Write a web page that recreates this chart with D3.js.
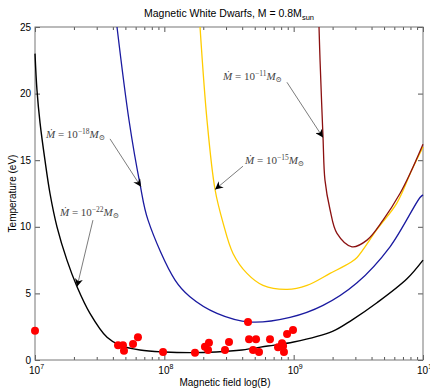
<!DOCTYPE html>
<html>
<head>
<meta charset="utf-8">
<script src="https://cdn.jsdelivr.net/npm/d3@7"></script>
<style>
  body { margin: 0; background: #fff; }
  svg { display: block; font-family: 'Liberation Sans', Arial, sans-serif; }
</style>
</head>
<body>
<svg width="430" height="388"></svg>
<script>
// Curves: log10(B) and temperature in eV
const blackLogB = [7.0, 7.015, 7.039, 7.077, 7.116, 7.17, 7.247, 7.325, 7.425, 7.557, 7.657, 7.812, 8.0, 8.2, 8.4, 8.6, 8.8, 9.0, 9.3, 9.45, 9.644, 9.876, 10.0];
const blackT = [23.0, 20.3, 17.8, 15.0, 12.5, 10.0, 7.5, 5.5, 3.5, 1.7, 1.1, 0.75, 0.6, 0.55, 0.6, 0.75, 1.05, 1.35, 2.15, 3.0, 4.3, 6.1, 7.5];

const blueLogB = [7.634, 7.727, 7.812, 7.874, 8.083, 8.198, 8.407, 8.662, 8.972, 9.227, 9.49, 9.745, 9.977, 10.0];
const blueT = [25, 18, 13.2, 10.5, 6.0, 4.75, 3.5, 2.85, 3.2, 4.1, 5.8, 8.5, 12.2, 12.4];

const yellowLogB = [8.276, 8.33, 8.392, 8.454, 8.531, 8.639, 8.763, 8.949, 9.103, 9.281, 9.436, 9.49, 9.644, 9.799, 9.915, 10.0];
const yellowT = [25, 18, 12.8, 10.3, 8.0, 6.5, 5.6, 5.3, 5.6, 6.5, 7.3, 7.7, 9.8, 11.8, 14.3, 16.0];

const redLogB = [9.196, 9.204, 9.227, 9.242, 9.281, 9.335, 9.451, 9.567, 9.691, 9.822, 9.9, 10.0];
const redT = [25, 22.5, 16.7, 13.5, 11.3, 9.5, 8.5, 9.0, 10.5, 12.5, 14.0, 16.2];

// Observed magnetic white dwarfs
const obsLogB = [7.0, 7.642, 7.68, 7.688, 7.758, 7.796, 7.99, 8.237, 8.314, 8.345, 8.338, 8.469, 8.5, 8.647, 8.655, 8.709, 8.686, 8.732, 8.817, 8.879, 8.91, 8.918, 8.925, 8.949, 8.995];
const obsT = [2.2, 1.1, 1.1, 0.7, 1.2, 1.7, 0.6, 0.55, 1.0, 1.3, 0.75, 0.75, 1.35, 2.85, 1.55, 1.55, 0.75, 0.6, 1.55, 0.95, 1.25, 1.05, 0.6, 1.95, 2.25];

// Annotations: exponent, text anchor, arrow start, arrow tip (log10 B, T)
const annExp = ['−22', '−18', '−15', '−11'];
const annText = [[7.193, 10.8], [7.085, 16.67], [8.624, 14.7], [8.454, 21.0]];
const annFrom = [[7.448, 10.5], [7.58, 16.6], [8.608, 14.55], [8.948, 20.85]];
const annTip = [[7.325, 5.5], [7.82, 13.0], [8.392, 12.8], [9.227, 16.7]];

const xTickExp = [7, 8, 9, 10];
const yTicks = [0, 5, 10, 15, 20, 25];

const svg = d3.select('svg');
const plotL = 35;
const plotR = 423;
const plotT = 27;
const plotB = 360;

const x = d3.scaleLog().domain([1e7, 1e10]).range([plotL, plotR]);
const y = d3.scaleLinear().domain([0, 25]).range([plotB, plotT]);
const px = (v) => x(10 ** v);

// minor ticks for the log axis
const minor = [];
xTickExp.slice(0, -1).forEach((e) => {
  for (let k = 2; k <= 9; k += 1) minor.push(k * 10 ** e);
});
const majors = xTickExp.map((e) => 10 ** e);

const tickStyle = (g) => {
  g.select('.domain').remove();
  g.selectAll('line').attr('stroke', '#555');
  g.selectAll('text').remove();
};

svg.append('g').attr('transform', `translate(0,${plotB})`)
  .call(d3.axisBottom(x).tickValues(minor).tickSize(-3)).call(tickStyle);
svg.append('g').attr('transform', `translate(0,${plotB})`)
  .call(d3.axisBottom(x).tickValues(majors).tickSize(-5)).call(tickStyle);
svg.append('g').attr('transform', `translate(0,${plotT})`)
  .call(d3.axisTop(x).tickValues(minor).tickSize(-3)).call(tickStyle);
svg.append('g').attr('transform', `translate(0,${plotT})`)
  .call(d3.axisTop(x).tickValues(majors).tickSize(-5)).call(tickStyle);
svg.append('g').attr('transform', `translate(${plotL},0)`)
  .call(d3.axisLeft(y).tickValues(yTicks).tickSize(-5)).call(tickStyle);
svg.append('g').attr('transform', `translate(${plotR},0)`)
  .call(d3.axisRight(y).tickValues(yTicks).tickSize(-5)).call(tickStyle);

// box
svg.append('rect')
  .attr('x', plotL)
  .attr('y', plotT)
  .attr('width', plotR - plotL)
  .attr('height', plotB - plotT)
  .attr('fill', 'none')
  .attr('stroke', '#777')
  .attr('stroke-width', 1);

// tick labels
svg.append('g').selectAll('text')
  .data(yTicks)
  .join('text')
  .attr('x', plotL - 4)
  .attr('y', (d) => y(d) + 3.5)
  .attr('text-anchor', 'end')
  .style('font-size', '10px')
  .text((d) => d);

const xLab = svg.append('g').selectAll('text')
  .data(xTickExp)
  .join('text')
  .attr('x', (d) => x(10 ** d) - 6)
  .attr('y', plotB + 14)
  .style('font-size', '10px');
xLab.append('tspan').text('10');
xLab.append('tspan').attr('dy', -5).style('font-size', '7px').text((d) => d);

// curves
const line = d3.line()
  .x((d) => px(d[0]))
  .y((d) => y(d[1]))
  .curve(d3.curveCatmullRom.alpha(0.5));

const curves = [
  [blackLogB, blackT, '#000', 1.4],
  [blueLogB, blueT, '#1a1aa0', 1.3],
  [yellowLogB, yellowT, '#ffcc00', 1.3],
  [redLogB, redT, '#8b1010', 1.3],
];
curves.forEach(([xs, ts, color, w]) => {
  svg.append('path')
    .datum(xs.map((v, i) => [v, ts[i]]))
    .attr('fill', 'none')
    .attr('stroke', color)
    .attr('stroke-width', w)
    .attr('d', line);
});

// observed points
svg.append('g').selectAll('circle')
  .data(obsLogB.map((v, i) => [v, obsT[i]]))
  .join('circle')
  .attr('cx', (d) => px(d[0]))
  .attr('cy', (d) => y(d[1]))
  .attr('r', 4)
  .attr('fill', '#ff0000');

// arrow marker
svg.append('defs').append('marker')
  .attr('id', 'head')
  .attr('viewBox', '0 0 10 10')
  .attr('refX', 10)
  .attr('refY', 5)
  .attr('markerWidth', 8)
  .attr('markerHeight', 8)
  .attr('markerUnits', 'userSpaceOnUse')
  .attr('orient', 'auto')
  .append('path')
  .attr('d', 'M0,0 L10,5 L0,10 L3,5 Z')
  .attr('fill', '#000');

annExp.forEach((ex, i) => {
  svg.append('line')
    .attr('x1', px(annFrom[i][0]))
    .attr('y1', y(annFrom[i][1]))
    .attr('x2', px(annTip[i][0]))
    .attr('y2', y(annTip[i][1]))
    .attr('stroke', '#444')
    .attr('stroke-width', 0.7)
    .attr('marker-end', 'url(#head)');

  const t = svg.append('text')
    .attr('x', px(annText[i][0]))
    .attr('y', y(annText[i][1]))
    .attr('fill', '#444')
    .style('font-family', "'Liberation Serif', 'DejaVu Serif', serif")
    .style('font-size', '11px');
  t.append('tspan').style('font-style', 'italic').text('Ṁ');
  t.append('tspan').text(' = 10');
  t.append('tspan').attr('dy', -4).style('font-size', '7.5px').text(ex);
  t.append('tspan').attr('dy', 4).style('font-style', 'italic').text('M');
  t.append('tspan').attr('dy', 2).style('font-size', '7.5px').text('⊙');
});

// title and axis labels
const title = svg.append('text')
  .attr('x', (plotL + plotR) / 2)
  .attr('y', 17)
  .attr('text-anchor', 'middle')
  .style('font-size', '10.5px');
title.append('tspan').text('Magnetic White Dwarfs, M = 0.8M');
title.append('tspan').attr('dy', 3).style('font-size', '7.5px').text('sun');

svg.append('text')
  .attr('x', (plotL + plotR) / 2 - 4)
  .attr('y', 386)
  .attr('text-anchor', 'middle')
  .style('font-size', '10px')
  .text('Magnetic field log(B)');

svg.append('text')
  .attr('transform', 'rotate(-90)')
  .attr('x', -(plotT + plotB) / 2)
  .attr('y', 16)
  .attr('text-anchor', 'middle')
  .style('font-size', '10px')
  .text('Temperature (eV)');
</script>
</body>
</html>
